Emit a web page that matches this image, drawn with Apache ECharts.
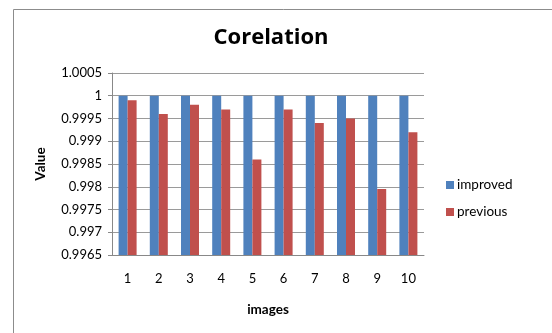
<!DOCTYPE html>
<html>
<head>
<meta charset="utf-8">
<script src="https://cdn.jsdelivr.net/npm/echarts@6/dist/echarts.min.js"></script>
<style>html,body{margin:0;padding:0;background:#fff}#c{width:552px;height:333px}</style>
</head>
<body>
<div id="c"></div>
<script>
var categories = ['1','2','3','4','5','6','7','8','9','10'];
var improved = [1, 1, 1, 1, 1, 1, 1, 1, 1, 1];
var previous = [0.9999, 0.9996, 0.9998, 0.9997, 0.9986, 0.9997, 0.9994, 0.9995, 0.99795, 0.9992];
var yMin = 0.9965, yMax = 1.0005, yStep = 0.0005;

var F = 'Lato, "Open Sans", sans-serif';
var chart = echarts.init(document.getElementById('c'));
chart.setOption({
  animation: false,
  backgroundColor: '#fff',
  graphic: [{
    type: 'rect', shape: {x: 13.5, y: 9.5, width: 600, height: 400},
    style: {fill: 'none', stroke: '#8c8c8c', lineWidth: 1}, silent: true
  }],
  title: {
    text: 'Corelation', left: 266, top: 22, textAlign: 'center',
    textStyle: {fontFamily: '"Open Sans", sans-serif', fontSize: 22, fontWeight: 'bold', color: '#000'}
  },
  legend: {
    orient: 'vertical', left: 441, top: 173, itemWidth: 8, itemHeight: 8, itemGap: 13,
    icon: 'rect',
    textStyle: {fontFamily: F, fontSize: 13.5, color: '#000', padding: [0,0,0,-2]},
    data: ['improved', 'previous']
  },
  grid: {left: 112, right: 128, top: 73, bottom: 78, containLabel: false},
  xAxis: {
    type: 'category', data: categories,
    name: 'images', nameLocation: 'middle', nameGap: 48,
    nameTextStyle: {fontFamily: F, fontSize: 13.5, fontWeight: 'bold', color: '#000'},
    axisLine: {lineStyle: {color: '#888'}},
    axisTick: {show: false},
    axisLabel: {fontFamily: F, fontSize: 13, color: '#000', margin: 17}
  },
  yAxis: {
    type: 'value', min: yMin, max: yMax, interval: yStep,
    name: 'Value', nameLocation: 'middle', nameGap: 64, nameRotate: 90,
    nameTextStyle: {fontFamily: F, fontSize: 13.5, fontWeight: 'bold', color: '#000'},
    axisLine: {show: true, lineStyle: {color: '#888'}},
    axisTick: {show: true, length: 4, lineStyle: {color: '#888'}},
    splitLine: {lineStyle: {color: '#9a9a9a', width: 1}},
    axisLabel: {
      fontFamily: F, fontSize: 13, color: '#000', margin: 10,
      formatter: function (v) { return String(Math.round(v * 10000) / 10000); }
    }
  },
  series: [
    {name: 'improved', type: 'bar', data: improved, barWidth: 9, barGap: '0%',
     itemStyle: {color: '#4f81bd'}},
    {name: 'previous', type: 'bar', data: previous, barWidth: 9,
     itemStyle: {color: '#c0504d'}}
  ]
});
</script>
</body>
</html>
